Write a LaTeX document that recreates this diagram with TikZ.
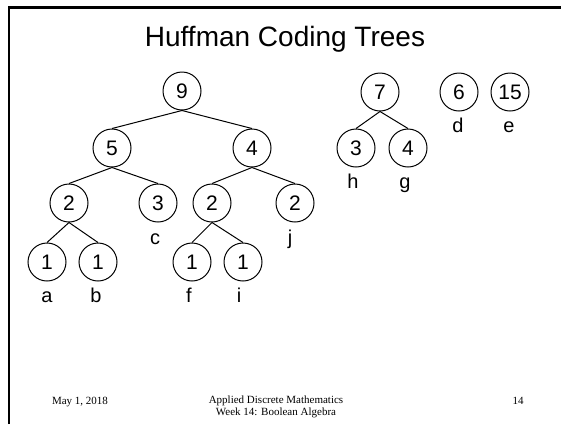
\documentclass[tikz,border=0pt]{standalone}
\usepackage{fontspec}
\setmainfont{Liberation Sans}
\newfontfamily\footfont{Liberation Serif}
\begin{document}
\begin{tikzpicture}[x=1pt,y=-1pt,
  hnode/.style={circle,draw,line width=1pt,minimum size=38pt,inner sep=0pt,font=\fontsize{21}{24}\selectfont},
  lbl/.style={anchor=base,font=\fontsize{20}{24}\selectfont,inner sep=0pt},
  edge/.style={line width=1pt},
  frame/.style={line width=2.8pt},
  foot/.style={font=\footfont\fontsize{11}{12}\selectfont,inner sep=0pt,align=center,anchor=base}]
\useasboundingbox (0,0) rectangle (561,424);
\fill[white] (0,0) rectangle (561,424);
\coordinate (fa) at (9,424);
\coordinate (fb) at (9,7.5);
\coordinate (fc) at (562,7.5);
\draw[frame] (fa) -- (fb) -- (fc);
\node[anchor=base,inner sep=0pt,font=\fontsize{28}{32}\selectfont] (title) at (285,46) {Huffman Coding Trees};
% big tree
\node[hnode] (n9) at (182,91) {9};
\node[hnode] (n5) at (112,148) {5};
\node[hnode] (n4) at (252,148) {4};
\node[hnode] (n2a) at (69,203) {2};
\node[hnode] (n3) at (158,203) {3};
\node[hnode] (n2b) at (212,203) {2};
\node[hnode] (n2c) at (295,203) {2};
\node[hnode] (n1a) at (47,262) {1};
\node[hnode] (n1b) at (98,262) {1};
\node[hnode] (n1c) at (192,262) {1};
\node[hnode] (n1d) at (243,262) {1};
\draw[edge] (n9.south) -- (n5.north);
\draw[edge] (n9.south) -- (n4.north);
\draw[edge] (n5.south) -- (n2a.north);
\draw[edge] (n5.south) -- (n3.north);
\draw[edge] (n4.south) -- (n2b.north);
\draw[edge] (n4.south) -- (n2c.north);
\draw[edge] (n2a.south) -- (n1a.north);
\draw[edge] (n2a.south) -- (n1b.north);
\draw[edge] (n2b.south) -- (n1c.north);
\draw[edge] (n2b.south) -- (n1d.north);
\node[lbl] (la) at (47,302) {a};
\node[lbl] (lb) at (96,302) {b};
\node[lbl] (lc) at (155,244) {c};
\node[lbl] (lf) at (189,302) {f};
\node[lbl] (li) at (239,302) {i};
\node[lbl] (lj) at (290,244) {j};
% second tree
\node[hnode] (n7) at (380,92) {7};
\node[hnode] (n3b) at (356,148) {3};
\node[hnode] (n4b) at (408,148) {4};
\draw[edge] (n7.south) -- (n3b.north);
\draw[edge] (n7.south) -- (n4b.north);
\node[lbl] (lh) at (353,188) {h};
\node[lbl] (lg) at (405,188) {g};
% single nodes
\node[hnode] (n6) at (459,92) {6};
\node[hnode] (n15) at (510,92) {15};
\node[lbl] (ld) at (458,132) {d};
\node[lbl] (le) at (509,132) {e};
% footer
\node[foot] (date) at (80,404) {May 1, 2018};
\node[foot] (course) at (276,415) {Applied Discrete Mathematics\\Week 14: Boolean Algebra};
\node[foot] (num) at (518,404) {14};
\end{tikzpicture}
\end{document}
